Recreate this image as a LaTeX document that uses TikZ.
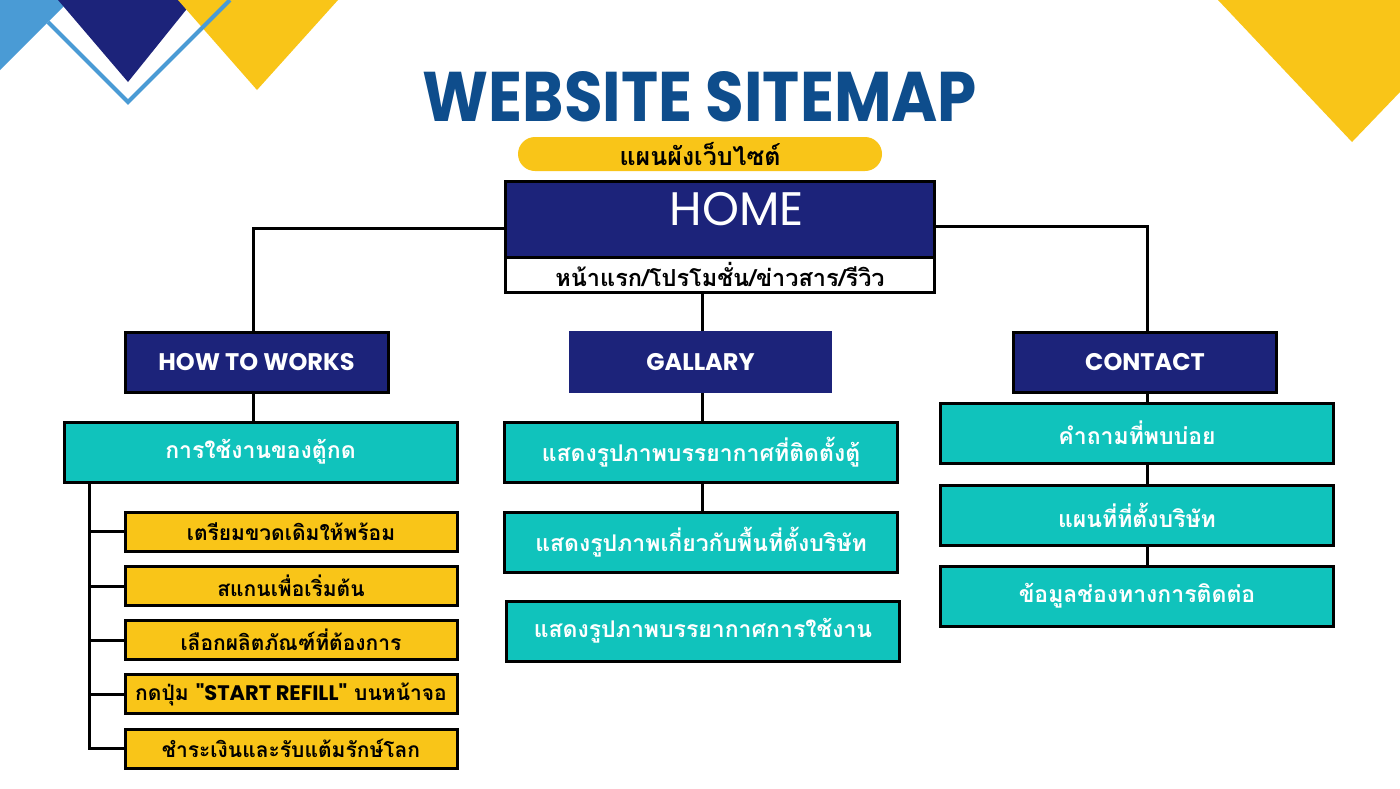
\documentclass[tikz,border=0pt]{standalone}
\usepackage{fontspec}
\setmainfont{Poppins}
\newfontfamily\popn{Poppins}
\newfontfamily\thai[Script=Thai]{Loma}
\definecolor{navy}{HTML}{1C237A}
\definecolor{cyanbox}{HTML}{10C3BC}
\definecolor{gold}{HTML}{F9C518}
\definecolor{titleblue}{HTML}{0E4D8C}
\definecolor{lblue}{HTML}{4A9BD5}
\tikzset{
  conn/.style={draw=black, line width=3pt},
  navybox/.style={rectangle, fill=navy, draw=black, line width=3pt, minimum width=263pt, minimum height=60pt, text=white, font=\fontsize{24}{28}\selectfont\bfseries, inner sep=0pt},
  cyannode/.style={rectangle, fill=cyanbox, draw=black, line width=3pt, minimum width=393pt, minimum height=60pt, text=white, font=\thai\fontsize{23}{26}\selectfont\bfseries, inner sep=0pt},
  goldnode/.style={rectangle, fill=gold, draw=black, line width=3pt, minimum width=332pt, minimum height=39pt, text=black, font=\thai\fontsize{21}{24}\selectfont\bfseries, inner sep=0pt},
}
\begin{document}
\begin{tikzpicture}[x=1pt, y=-1pt]
\useasboundingbox (0,0) rectangle (1400,788);
\fill[white] (0,0) rectangle (1400,788);
% decorations
\fill[lblue] (0,0) -- (70,0) -- (0,70) -- cycle;
\fill[navy] (58,0) -- (194,0) -- (128,82) -- cycle;
\fill[gold] (178,0) -- (338,0) -- (257,90) -- cycle;
\draw[lblue, line width=4pt] (48,22) -- (128,102) -- (230,0);
\fill[gold] (1218,0) -- (1400,0) -- (1400,92) -- (1352,142) -- cycle;
% title
\node[text=titleblue, inner sep=0pt, anchor=north] (title) at (700,71) {\resizebox{554pt}{50pt}{\bfseries WEBSITE SITEMAP}};
\node[fill=gold, rounded corners=17pt, minimum width=364pt, minimum height=34pt, inner sep=0pt] (pill) at (700,154) {};
\node[font=\thai\fontsize{25}{28}\selectfont\bfseries] (pilltext) at (700,154) {แผนผังเว็บไซต์};
% home
\node[rectangle, fill=navy, minimum width=428pt, minimum height=75pt, inner sep=0pt] (homeTop) at (720,219.5) {};
\node[rectangle, fill=white, minimum width=428pt, minimum height=35pt, inner sep=0pt] (homeBot) at (720,274.5) {};
\draw[line width=3pt] (homeTop.north west) rectangle (homeBot.south east);
\draw[line width=3pt] (homeTop.south west) -- (homeTop.south east);
\node[text=white, font=\fontsize{47}{50}\selectfont] (hometext) at (737,209) {HOME};
\node[font=\thai\fontsize{23.5}{26}\selectfont\bfseries] (homesub) at (720,274) {หน้าแรก/โปรโมชั่น/ข่าวสาร/รีวิว};
% level 1
\node[navybox] (how) at (256.5,362) {HOW TO WORKS};
\node[navybox, draw=none, minimum height=62pt] (gal) at (700.5,362) {GALLARY};
\node[navybox] (con) at (1145,362) {CONTACT};
% left column
\node[cyannode] (use) at (260.5,452) {การใช้งานของตู้กด};
\node[goldnode] (g1) at (291,531.5) {เตรียมขวดเดิมให้พร้อม};
\node[goldnode] (g2) at (291,586) {สแกนเพื่อเริ่มต้น};
\node[goldnode] (g3) at (291,640) {เลือกผลิตภัณฑ์ที่ต้องการ};
\node[goldnode] (g4) at (291,694) {กดปุ่ม {\popn\bfseries "START REFILL"} บนหน้าจอ};
\node[goldnode] (g5) at (291,748.5) {ชำระเงินและรับแต้มรักษ์โลก};
% middle column
\node[cyannode] (m1) at (701,452) {แสดงรูปภาพบรรยากาศที่ติดตั้งตู้};
\node[cyannode] (m2) at (701,542) {แสดงรูปภาพเกี่ยวกับพื้นที่ตั้งบริษัท};
\node[cyannode] (m3) at (703,631) {แสดงรูปภาพบรรยากาศการใช้งาน};
% right column
\node[cyannode] (r1) at (1137,433) {คำถามที่พบบ่อย};
\node[cyannode] (r2) at (1137,515) {แผนที่ที่ตั้งบริษัท};
\node[cyannode] (r3) at (1137,596) {ข้อมูลช่องทางการติดต่อ};
% connectors
\coordinate (hl) at (506,228);
\coordinate (hr) at (934,226);
\coordinate (howt) at (253,332);
\coordinate (howb) at (253,392);
\coordinate (uset) at (253,422);
\draw[conn] (hl) -| (howt);
\draw[conn] (hr) -| (1147,332);
\draw[conn] (702,292) -- (702,331);
\draw[conn] (howb) -- (uset);
\draw[conn] (702,393) -- (702,422);
\draw[conn] (702,482) -- (702,512);
\draw[conn] (1147,392) -- (1147,403);
\draw[conn] (1147,463) -- (1147,485);
\draw[conn] (1147,545) -- (1147,566);
\coordinate (lt) at (89,482);
\coordinate (lb) at (89,748.5);
\draw[conn] (lt) -- (lb) -- (g5.west);
\draw[conn] (g1.west) -- (89,531.5);
\draw[conn] (g2.west) -- (89,586);
\draw[conn] (g3.west) -- (89,640);
\draw[conn] (g4.west) -- (89,694);
\end{tikzpicture}
\end{document}
